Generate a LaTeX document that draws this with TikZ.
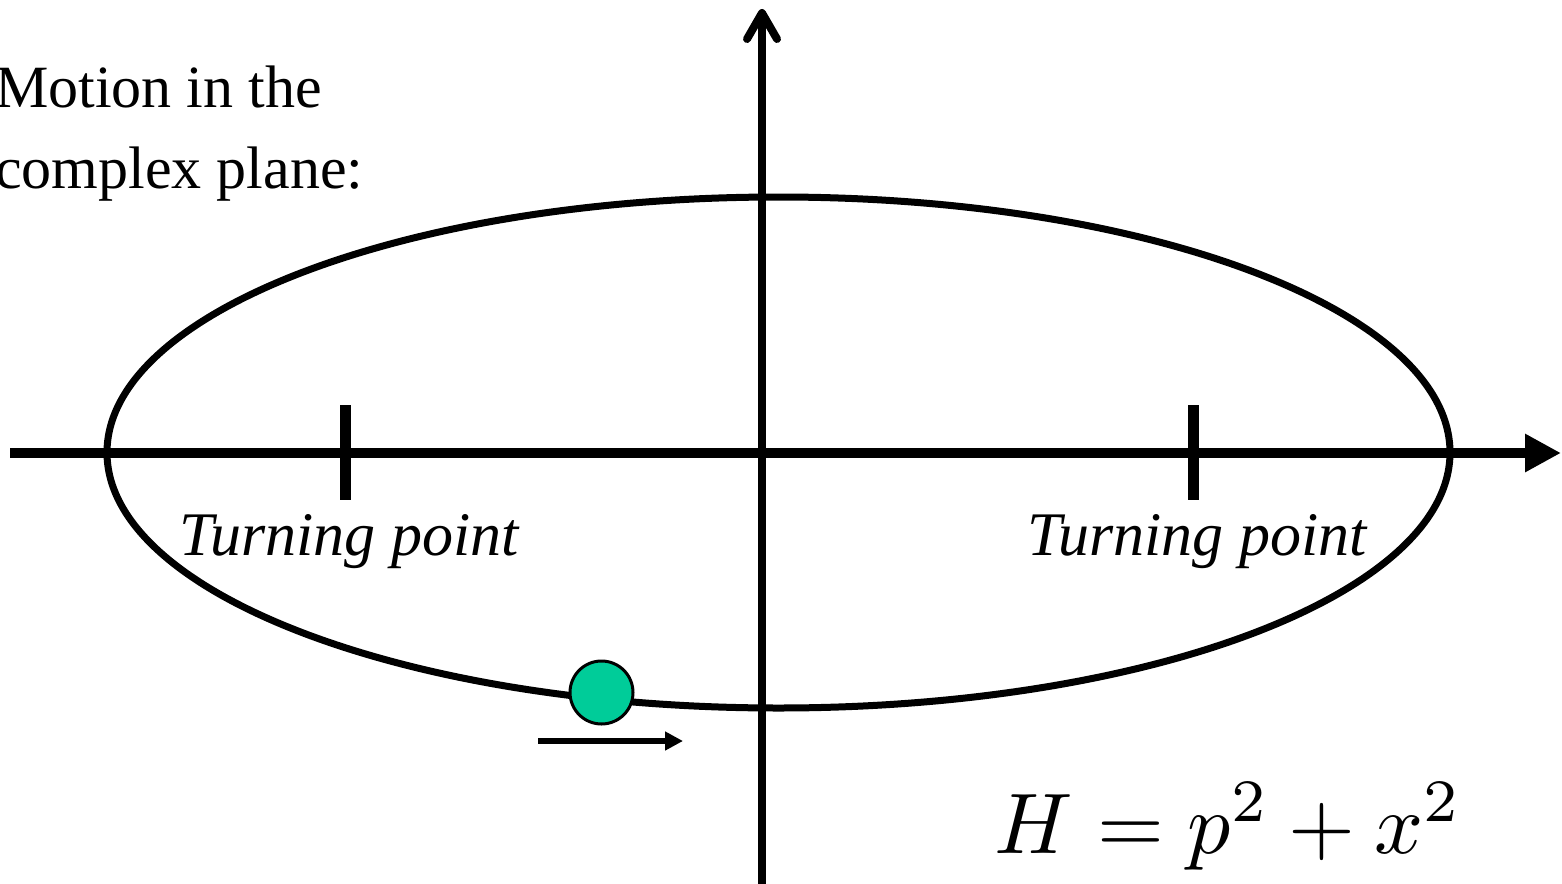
\documentclass[tikz,border=0pt]{standalone}
\usepackage{fontspec}
\setmainfont{Liberation Serif}
\usetikzlibrary{arrows.meta}
\definecolor{ballgreen}{RGB}{0,204,153}
\tikzset{
  axisline/.style={line width=#1, black},
  tickmark/.style={line width=11pt},
  label/.style={font=\fontsize{62}{72}\selectfont\itshape, inner sep=0pt, anchor=base},
}
\begin{document}
\begin{tikzpicture}[x=1pt,y=-1pt]
\useasboundingbox (0,0) rectangle (1562,883);
% axes
\coordinate (hL) at (10,453);
\coordinate (hR) at (1561,453);
\coordinate (vB) at (762,890);
\coordinate (vT) at (762,9);
\draw[axisline=10pt, -{Triangle[length=36pt,width=36pt]}] (hL) -- (hR);
\draw[axisline=8pt, line cap=round, -{Straight Barb[length=26pt,width=30pt,line cap=round,line join=round]}] (vB) -- (vT);
% ellipse
\coordinate (ec) at (778.5,452.5);
\draw[line width=7pt] (ec) ellipse [x radius=671.5, y radius=255.5];
% ticks
\coordinate (t1a) at (345,405); \coordinate (t1b) at (345,500);
\coordinate (t2a) at (1193,405); \coordinate (t2b) at (1193,500);
\draw[tickmark] (t1a) -- (t1b);
\draw[tickmark] (t2a) -- (t2b);
% labels
\node[label] (tpl) at (349,555) {Turning point};
\node[label] (tpr) at (1197,555) {Turning point};
\node[font=\fontsize{60}{81}\selectfont, inner sep=0pt, anchor=base west, align=left] (title) at (-5,188) {Motion in the\\complex plane:};
% ball
\node[circle, draw, line width=3pt, fill=ballgreen, minimum size=63pt, inner sep=0pt] (ball) at (601.5,692.5) {};
\coordinate (a1) at (538,741);
\coordinate (a2) at (683,741);
\draw[line width=6pt, -{Triangle[length=18pt,width=18pt]}] (a1) -- (a2);
% formula
\begin{scope}[shift={(993,853)}, scale=8.6, transform shape]
\node[inner sep=0pt, anchor=base west] (ham) at (0,0) {$H=p^2+x^2$};
\end{scope}
\end{tikzpicture}
\end{document}
